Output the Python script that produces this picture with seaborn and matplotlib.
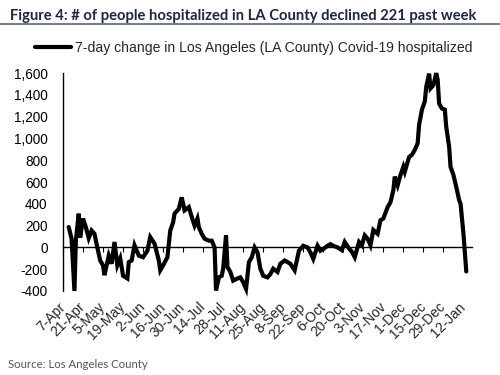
import matplotlib
matplotlib.use("Agg")
import matplotlib.pyplot as plt
import matplotlib.dates as mdates
import seaborn as sns
import pandas as pd
import numpy as np

# ---- data ----
dates = [
    "2020-04-11", "2020-04-13", "2020-04-15", "2020-04-16", "2020-04-18", "2020-04-19",
    "2020-04-21", "2020-04-23", "2020-04-25", "2020-04-27", "2020-04-29", "2020-05-01",
    "2020-05-03", "2020-05-05", "2020-05-06", "2020-05-09", "2020-05-11", "2020-05-13",
    "2020-05-15", "2020-05-17", "2020-05-19", "2020-05-22", "2020-05-23", "2020-05-25",
    "2020-05-27", "2020-05-30", "2020-06-02", "2020-06-05", "2020-06-07", "2020-06-10",
    "2020-06-13", "2020-06-14", "2020-06-16", "2020-06-19", "2020-06-21", "2020-06-23",
    "2020-06-24", "2020-06-27", "2020-06-29", "2020-07-01", "2020-07-04", "2020-07-06",
    "2020-07-08", "2020-07-10", "2020-07-11", "2020-07-13", "2020-07-15", "2020-07-18",
    "2020-07-20", "2020-07-22", "2020-07-23", "2020-07-25", "2020-07-27", "2020-07-28",
    "2020-07-30", "2020-07-31", "2020-08-02", "2020-08-04", "2020-08-07", "2020-08-09",
    "2020-08-11", "2020-08-13", "2020-08-15", "2020-08-17", "2020-08-19", "2020-08-21",
    "2020-08-23", "2020-08-25", "2020-08-28", "2020-08-30", "2020-09-01", "2020-09-04",
    "2020-09-06", "2020-09-09", "2020-09-13", "2020-09-16", "2020-09-19", "2020-09-22",
    "2020-09-25", "2020-09-27", "2020-09-29", "2020-10-02", "2020-10-04", "2020-10-06",
    "2020-10-09", "2020-10-11", "2020-10-13", "2020-10-16", "2020-10-19", "2020-10-21",
    "2020-10-24", "2020-10-26", "2020-10-28", "2020-10-31", "2020-11-02", "2020-11-04",
    "2020-11-06", "2020-11-08", "2020-11-10", "2020-11-13", "2020-11-15", "2020-11-17",
    "2020-11-20", "2020-11-22", "2020-11-24", "2020-11-25", "2020-11-27", "2020-11-29",
    "2020-12-01", "2020-12-02", "2020-12-05", "2020-12-07", "2020-12-09", "2020-12-11",
    "2020-12-12", "2020-12-14", "2020-12-16", "2020-12-17", "2020-12-19", "2020-12-20",
    "2020-12-22", "2020-12-24", "2020-12-25", "2020-12-26", "2020-12-28", "2020-12-30",
    "2020-12-31", "2021-01-02", "2021-01-03", "2021-01-05", "2021-01-07", "2021-01-09",
    "2021-01-10", "2021-01-12", "2021-01-14",
]
change_7d = [
    187, 80, -400, 65, 310, 90,
    265, 185, 85, 155, 125, 0,
    -120, -165, -255, -75, -150, 50,
    -165, -100, -260, -285, -135, -120,
    20, -75, -90, -30, 95, 35,
    -120, -210, -165, -90, 155, 230,
    310, 355, 460, 340, 370, 280,
    200, 265, 185, 125, 80, 62,
    62, 0, -395, -275, -260, -195,
    110, -180, -225, -305, -285, -275,
    -320, -380, -135, -90, 0, -45,
    -195, -260, -275, -245, -195, -225,
    -150, -120, -150, -210, -30, 15,
    0, -45, -105, 15, -30, -15,
    15, 30, 15, 0, -25, 50,
    -10, -40, -90, 50, 20, 110,
    80, 20, 160, 125, 250, 265,
    370, 415, 525, 650, 570, 665,
    740, 695, 830, 850, 895, 955,
    1125, 1265, 1340, 1475, 1595, 1460,
    1490, 1600, 1540, 1320, 1275, 1265,
    1105, 925, 740, 665, 555, 435,
    400, 130, -221,
]
tick_dates = [
    "2020-04-07", "2020-04-21", "2020-05-05", "2020-05-19", "2020-06-02", "2020-06-16",
    "2020-06-30", "2020-07-14", "2020-07-28", "2020-08-11", "2020-08-25", "2020-09-08",
    "2020-09-22", "2020-10-06", "2020-10-20", "2020-11-03", "2020-11-17", "2020-12-01",
    "2020-12-15", "2020-12-29", "2021-01-12",
]
tick_labels = [
    "7-Apr", "21-Apr", "5-May", "19-May", "2-Jun", "16-Jun", "30-Jun", "14-Jul",
    "28-Jul", "11-Aug", "25-Aug", "8-Sep", "22-Sep", "6-Oct", "20-Oct", "3-Nov",
    "17-Nov", "1-Dec", "15-Dec", "29-Dec", "12-Jan",
]
y_ticks = [-400, -200, 0, 200, 400, 600, 800, 1000, 1200, 1400, 1600]

title = "Figure 4: # of people hospitalized in LA County declined 221 past week"
series_label = "7-day change in Los Angeles (LA County) Covid-19 hospitalized"
source = "Source: Los Angeles County"

# ---- plot ----
sns.set_theme(style="white")
plt.rcParams["font.family"] = ["Liberation Sans", "DejaVu Sans"]

df = pd.DataFrame({"date": pd.to_datetime(dates), "value": change_7d})
df["x"] = mdates.date2num(df["date"])
tick_pos = mdates.date2num(pd.to_datetime(tick_dates))

fig = plt.figure(figsize=(5.0, 3.75), dpi=100)
ax = fig.add_axes([0.126, 0.224, 0.818, 0.581])

sns.lineplot(data=df, x="x", y="value", ax=ax, color="black", linewidth=3.0,
             label=series_label, legend=False)
for ln in ax.lines:
    ln.set_clip_on(False)
    ln.set_solid_joinstyle("miter")

ax.set_xlim(tick_pos[0], tick_pos[0] + 286)
ax.set_ylim(-400, 1600)
ax.set_xlabel("")
ax.set_ylabel("")

# y axis
ax.set_yticks(y_ticks)
ax.set_yticklabels([f"{v:,}" for v in y_ticks])
ax.tick_params(axis="y", length=0, pad=11, labelsize=9.8, colors="black")

# spines
for s in ["top", "right"]:
    ax.spines[s].set_visible(False)
ax.spines["left"].set_color("black")
ax.spines["left"].set_linewidth(1.0)
ax.spines["bottom"].set_position(("data", 0))
ax.spines["bottom"].set_color("black")
ax.spines["bottom"].set_linewidth(1.0)
ax.set_xticks(tick_pos)
ax.tick_params(axis="x", direction="out", length=3.5, width=0.8, color="black",
               labelbottom=False, bottom=True)

# tick labels along the bottom edge
sec = ax.secondary_xaxis("bottom")
sec.set_xticks(tick_pos)
sec.set_xticklabels(tick_labels, rotation=45, ha="right", va="center",
                    rotation_mode="anchor", fontsize=10)
sec.tick_params(axis="x", length=0, pad=10)
sec.spines["bottom"].set_visible(False)

ax.grid(False)

# legend
handles, labels = ax.get_legend_handles_labels()
fig.legend(handles, labels, loc="center left", bbox_to_anchor=(0.07, 0.873),
           frameon=False, fontsize=10.1, handlelength=2.6, handletextpad=0.25,
           borderaxespad=0, borderpad=0)

# title & rule
fig.text(0.02, 0.958, title, fontsize=10.6, fontweight="bold", color="#1c2640",
         family=["Lato", "DejaVu Sans"], va="center", ha="left")
fig.add_artist(plt.Line2D([0, 1], [0.937, 0.937], transform=fig.transFigure,
                          color="#5a6478", linewidth=1.2))

fig.text(0.016, 0.027, source, fontsize=8.2, color="#555555",
         family=["Lato", "DejaVu Sans"], va="center", ha="left")

fig.savefig("out.png", dpi=100, facecolor="white")
